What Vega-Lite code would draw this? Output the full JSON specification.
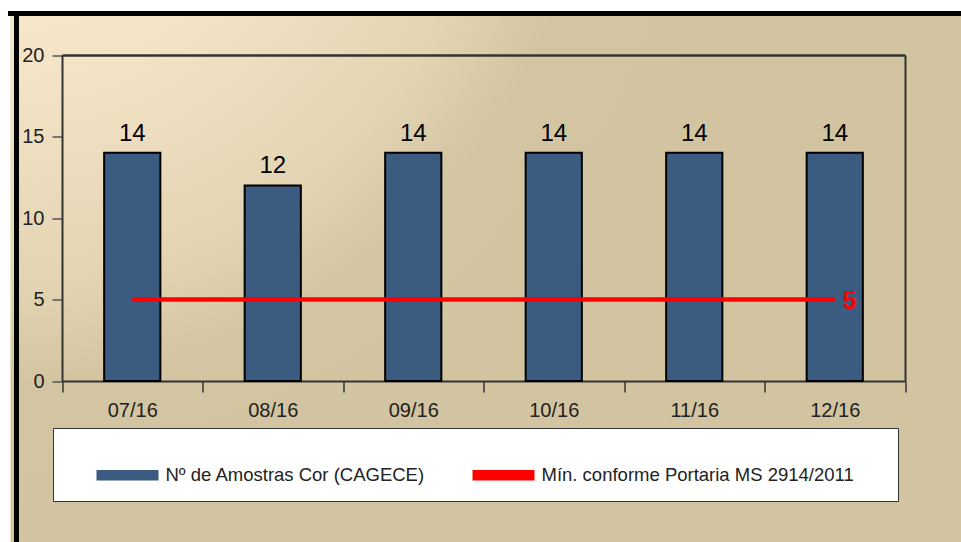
{
  "$schema": "https://vega.github.io/schema/vega-lite/v6.json",
  "autosize": {"type": "none"},
  "width": 950.5,
  "height": 528.5,
  "padding": {"left": 10.5, "top": 13.5, "right": 0, "bottom": 0},
  "background": "white",
  "data": {
    "values": [
      {"mes": "07/16", "amostras": 14, "minimo": 5},
      {"mes": "08/16", "amostras": 12, "minimo": 5},
      {"mes": "09/16", "amostras": 14, "minimo": 5},
      {"mes": "10/16", "amostras": 14, "minimo": 5},
      {"mes": "11/16", "amostras": 14, "minimo": 5},
      {"mes": "12/16", "amostras": 14, "minimo": 5}
    ]
  },
  "resolve": {"scale": {"x": "independent", "y": "independent"}, "axis": {"x": "independent", "y": "independent"}},
  "layer": [
    {
      "resolve": {"axis": {"x": "independent", "y": "independent"}},
      "layer": [
        {
          "mark": {"type": "bar", "width": {"band": 0.4}, "stroke": "#000000", "strokeWidth": 2, "opacity": 1},
          "encoding": {
            "x": {
              "field": "mes", "type": "ordinal",
              "scale": {"domain": ["07/16", "08/16", "09/16", "10/16", "11/16", "12/16"], "range": [51.5, 894.5], "paddingInner": 0, "paddingOuter": 0},
              "axis": {"orient": "bottom", "title": null, "offset": -161, "labelAngle": 0, "tickBand": "extent", "tickSize": 11, "tickColor": "#333333", "tickWidth": 1.5, "domainColor": "#333333", "domainWidth": 2, "labelFontSize": 20, "labelPadding": 8, "labelColor": "#222222", "grid": false}
            },
            "y": {
              "field": "amostras", "type": "quantitative",
              "scale": {"domain": [0, 20], "range": [367.5, 41.5], "nice": false, "zero": true},
              "axis": {"orient": "left", "title": null, "offset": -51.5, "values": [0, 5, 10, 15, 20], "tickSize": 10, "tickColor": "#555555", "tickWidth": 1.5, "domainColor": "#333333", "domainWidth": 2, "labelFontSize": 20, "labelPadding": 8, "labelColor": "#222222", "grid": false}
            },
            "color": {
              "datum": "Nº de Amostras Cor (CAGECE)",
              "scale": {"domain": ["Nº de Amostras Cor (CAGECE)", "Mín. conforme Portaria MS 2914/2011\u2800\u2800"], "range": ["#3B5B81", "#FF0000"]},
              "legend": {
                "orient": "none",
                "legendX": 42.5,
                "legendY": 414.5,
                "direction": "horizontal",
                "title": "\u2800",
                "titleColor": "#FFFFFF",
                "titleOrient": "left",
                "titleFontSize": 2,
                "titlePadding": 26.5,
                "padding": 16,
                "columnPadding": 47,
                "fillColor": "#FFFFFF",
                "strokeColor": "#333333",
                "symbolType": "M-1,-0.17H1V0.17H-1Z",
                "symbolSize": 3844,
                "symbolStrokeWidth": 0,
                "symbolOpacity": 1,
                "labelFontSize": 18.5,
                "labelColor": "#222222",
                "labelOffset": 7,
                "labelLimit": 600
              }
            }
          }
        },
        {
          "mark": {"type": "line", "strokeWidth": 4.3, "color": "#FF0000"},
          "encoding": {
            "x": {
              "field": "mes", "type": "ordinal",
              "axis": {"orient": "top", "title": null, "offset": -41.5, "labels": false, "ticks": false, "domainColor": "#333333", "domainWidth": 2.5, "grid": false}
            },
            "y": {
              "field": "minimo", "type": "quantitative",
              "axis": {"orient": "right", "title": null, "offset": -56, "labels": false, "ticks": false, "domainColor": "#333333", "domainWidth": 2, "grid": false}
            }
          }
        },
        {
          "mark": {"type": "text", "fontSize": 24, "color": "#000000", "baseline": "alphabetic", "dy": -12},
          "encoding": {
            "x": {"field": "mes", "type": "ordinal", "axis": null},
            "y": {"field": "amostras", "type": "quantitative", "axis": null},
            "text": {"field": "amostras", "type": "quantitative"}
          }
        },
        {
          "transform": [{"filter": "datum.mes === '12/16'"}],
          "mark": {"type": "text", "fontSize": 25, "fontWeight": "bold", "color": "#FF0000", "align": "left", "baseline": "middle", "dx": 8, "dy": 1},
          "encoding": {
            "x": {"field": "mes", "type": "ordinal", "axis": null},
            "y": {"field": "minimo", "type": "quantitative", "axis": null},
            "text": {"field": "minimo", "type": "quantitative"}
          }
        }
      ]
    },
    {
      "mark": {"type": "point", "opacity": 0},
      "encoding": {
        "x": {
          "datum": 0, "type": "quantitative",
          "scale": {"domain": [0, 1], "range": [0, 950.5]},
          "axis": {"orient": "top", "offset": 0, "translate": 0, "title": null, "labels": false, "ticks": false, "grid": false, "domainColor": "#000000", "domainWidth": 5, "domainCap": "square"}
        },
        "y": {
          "datum": 0, "type": "quantitative",
          "scale": {"domain": [0, 1], "range": [528.5, 0]},
          "axis": {"orient": "left", "offset": -6, "translate": 0, "title": null, "labels": false, "ticks": false, "grid": false, "domainColor": "#000000", "domainWidth": 5, "domainCap": "square"}
        }
      }
    }
  ],
  "config": {
    "font": "Liberation Sans",
    "view": {
      "fill": {
        "gradient": "radial",
        "x1": 0, "y1": 0, "r1": 0,
        "x2": 0, "y2": 0, "r2": 0.85,
        "stops": [
          {"offset": 0, "color": "#FCEDD4"},
          {"offset": 0.35, "color": "#F3E3C6"},
          {"offset": 0.6, "color": "#E2D3B2"},
          {"offset": 0.72, "color": "#D3C5A1"},
          {"offset": 1, "color": "#D2C4A0"}
        ]
      },
      "stroke": null
    },
    "axis": {"labelFont": "Liberation Sans"},
    "legend": {"labelFont": "Liberation Sans"}
  }
}
